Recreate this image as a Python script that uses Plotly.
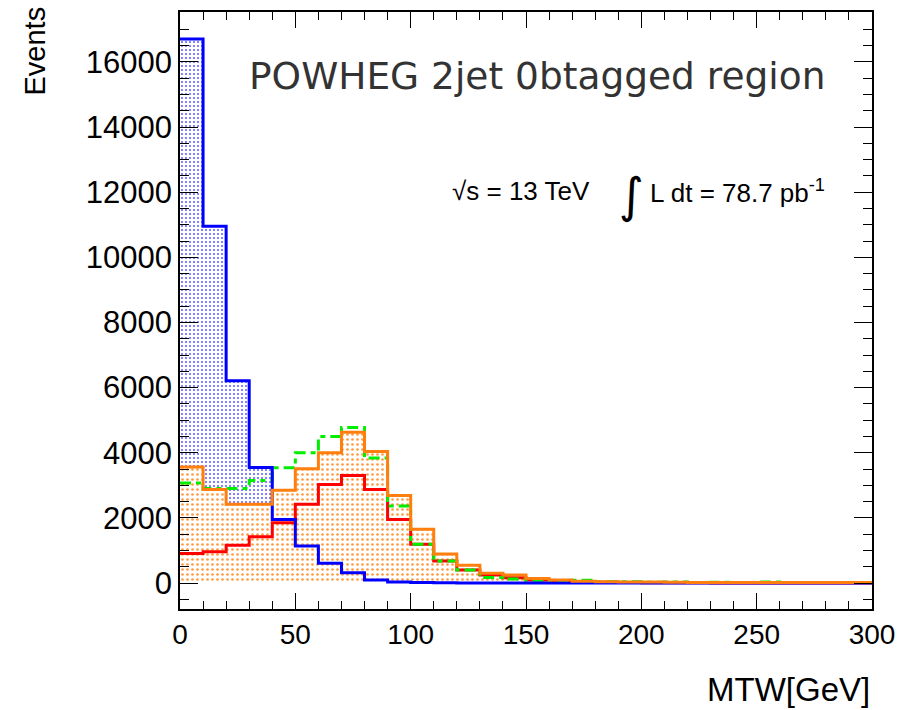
import plotly.graph_objects as go

# bin edges 0..300 in 10 GeV steps
bin_edges = list(range(0, 310, 10))

# blue (filled, dotted blue)
blue_vals = [16700, 10950, 6210, 3550, 1950, 1140, 610, 315, 95, 35,
             15, 8, 5, 3, 2, 1, 1, 0, 0, 0,
             0, 0, 0, 0, 0, 0, 0, 0, 0, 0]
# orange (filled, dotted orange)
orange_vals = [3560, 2870, 2420, 2420, 2850, 3510, 4000, 4630, 4040, 2690,
               1650, 890, 550, 300, 245, 145, 95, 60, 45, 35,
               30, 25, 22, 20, 20, 18, 18, 16, 15, 15]
# red line
red_vals = [910, 960, 1165, 1420, 1850, 2420, 3030, 3300, 2870, 1950,
            1195, 675, 400, 245, 165, 95, 55, 35, 25, 18,
            12, 10, 8, 6, 5, 4, 3, 3, 2, 2]
# green dash-dot line
green_vals = [3070, 2900, 2900, 3150, 3540, 4000, 4500, 4780, 3840, 2370,
              1195, 675, 400, 175, 125, 90, 45, 90, 40, 45,
              25, 30, 20, 25, 20, 30, 20, 15, 15, 20]

y_ticks = list(range(0, 18000, 2000))
y_tick_labels = [str(v) for v in y_ticks]
x_ticks = list(range(0, 350, 50))
x_tick_labels = [str(v) for v in x_ticks]


def step(vals):
    xs = bin_edges[:-1] + [bin_edges[-1]]
    ys = list(vals) + [vals[-1]]
    return xs, ys


fig = go.Figure()

bx, by = step(blue_vals)
ox, oy = step(orange_vals)
rx, ry = step(red_vals)
gx, gy = step(green_vals)

fig.add_trace(go.Scatter(x=bx, y=by, mode="lines", line=dict(shape="hv", width=0, color="#0000ff"),
                         fill="tozeroy", fillcolor="rgba(0,0,0,0)",
                         fillpattern=dict(shape=".", fgcolor="#5a5aff", bgcolor="white",
                                          size=4, solidity=0.2, fillmode="replace"),
                         hoverinfo="skip", showlegend=False))
fig.add_trace(go.Scatter(x=ox, y=oy, mode="lines", line=dict(shape="hv", width=0, color="#ff7f0e"),
                         fill="tozeroy", fillcolor="rgba(0,0,0,0)",
                         fillpattern=dict(shape=".", fgcolor="#ff9a40", bgcolor="white",
                                          size=5, solidity=0.22, fillmode="replace"),
                         hoverinfo="skip", showlegend=False))
fig.add_trace(go.Scatter(x=rx, y=ry, mode="lines", line=dict(shape="hv", width=3, color="#ff0000"),
                         showlegend=False))
fig.add_trace(go.Scatter(x=gx, y=gy, mode="lines",
                         line=dict(shape="hv", width=3, color="#00ee00", dash="11px,5px,5px,5px"),
                         showlegend=False))
fig.add_trace(go.Scatter(x=bx, y=by, mode="lines", line=dict(shape="hv", width=3, color="#0000ff"),
                         showlegend=False))
fig.add_trace(go.Scatter(x=ox, y=oy, mode="lines", line=dict(shape="hv", width=3, color="#ff7f0e"),
                         showlegend=False))

xtickfont = dict(family="Liberation Sans", size=28, color="black")
ytickfont = dict(family="Liberation Sans", size=31, color="black")

fig.update_layout(
    width=915, height=710,
    margin=dict(l=180, r=43, t=10, b=101),
    paper_bgcolor="white", plot_bgcolor="white",
    xaxis=dict(range=[0, 300], tickvals=x_ticks, ticktext=x_tick_labels, ticks="inside",
               ticklen=16, tickwidth=1,
               tickcolor="black", showline=True, linecolor="black", linewidth=1.5, mirror="ticks",
               showgrid=False, zeroline=False, tickfont=xtickfont,
               minor=dict(dtick=10, ticks="inside", ticklen=8, tickcolor="black", showgrid=False)),
    yaxis=dict(range=[-795, 17530], tickvals=y_ticks, ticktext=y_tick_labels, ticks="inside",
               ticklen=18, tickwidth=1,
               tickcolor="black", showline=True, linecolor="black", linewidth=1.5, mirror="ticks",
               showgrid=False, zeroline=False, tickfont=ytickfont,
               minor=dict(dtick=500, ticks="inside", ticklen=9, tickcolor="black", showgrid=False)),
)

fig.add_annotation(text="Events", xref="paper", yref="paper", x=-0.21, y=0.935,
                   xanchor="center", yanchor="middle", textangle=-90, showarrow=False,
                   font=dict(family="Liberation Sans", size=29, color="black"))
fig.add_annotation(text="MTW[GeV]", xref="paper", yref="paper", x=1.0, y=-0.135,
                   xanchor="right", yanchor="middle", showarrow=False,
                   font=dict(family="Liberation Sans", size=33, color="black"))
fig.add_annotation(text="POWHEG 2jet 0btagged region", xref="paper", yref="paper", x=0.097, y=0.892,
                   xanchor="left", yanchor="middle", showarrow=False,
                   font=dict(family="DejaVu Sans", size=37.5, color="#333333"))
fig.add_annotation(text="√s = 13 TeV", xref="paper", yref="paper", x=0.39, y=0.700,
                   xanchor="left", yanchor="middle", showarrow=False,
                   font=dict(family="Liberation Sans", size=26, color="black"))
fig.add_annotation(text="∫", xref="paper", yref="paper", x=0.632, y=0.694,
                   xanchor="left", yanchor="middle", showarrow=False,
                   font=dict(family="DejaVu Sans", size=48, color="black"))
fig.add_annotation(text="L dt = 78.7 pb<sup>-1</sup>", xref="paper", yref="paper", x=0.676, y=0.700,
                   xanchor="left", yanchor="middle", showarrow=False,
                   font=dict(family="Liberation Sans", size=26, color="black"))

fig.write_html("out.html")
